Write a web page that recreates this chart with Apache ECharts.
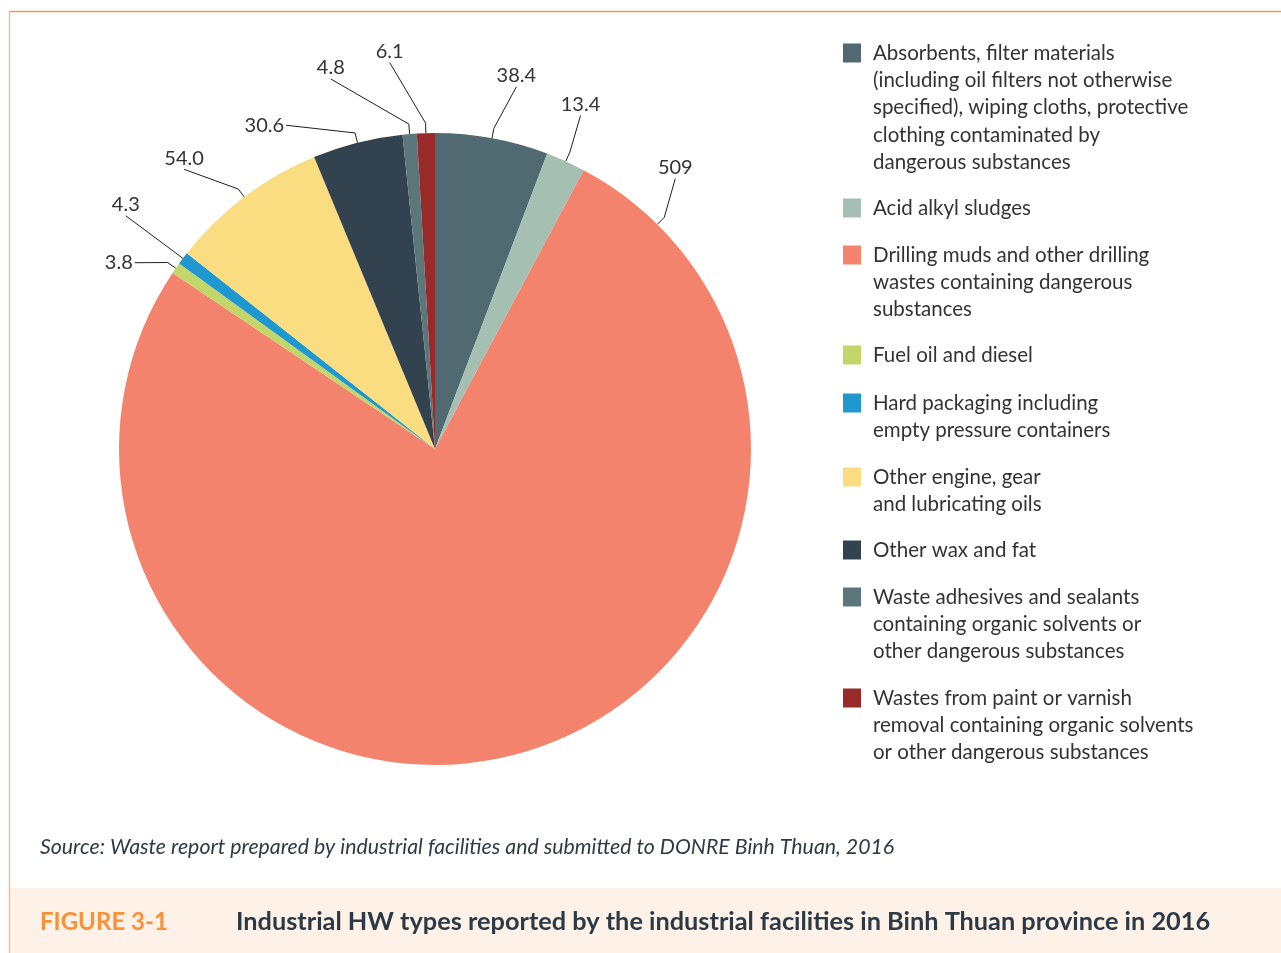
<!DOCTYPE html>
<html>
<head>
<meta charset="utf-8">
<script src="https://cdn.jsdelivr.net/npm/echarts@6/dist/echarts.min.js"></script>
<style>
  html, body { margin: 0; padding: 0; background: #ffffff; }
  #chart { width: 1281px; height: 953px; }
</style>
</head>
<body>
<div id="chart"></div>
<script>
// Hazardous waste types (tonnes) reported in 2016
const categories = [
  'Absorbents, filter materials\n(including oil filters not otherwise\nspecified), wiping cloths, protective\nclothing contaminated by\ndangerous substances',
  'Acid alkyl sludges',
  'Drilling muds and other drilling\nwastes containing dangerous\nsubstances',
  'Fuel oil and diesel',
  'Hard packaging including\nempty pressure containers',
  'Other engine, gear\nand lubricating oils',
  'Other wax and fat',
  'Waste adhesives and sealants\ncontaining organic solvents or\nother dangerous substances',
  'Wastes from paint or varnish\nremoval containing organic solvents\nor other dangerous substances'
];
const values = [38.4, 13.4, 509, 3.8, 4.3, 54.0, 30.6, 4.8, 6.1];

const sourceText = 'Source: Waste report prepared by industrial facilities and submitted to DONRE Binh Thuan, 2016';
const figureNo = 'FIGURE 3-1';
const figureTitle = 'Industrial HW types reported by the industrial facilities in Binh Thuan province in 2016';

// ---- styling / layout ----
const colors = ['#516a72', '#a6bfb3', '#f3836c', '#c2d669', '#1f98d0', '#fadd80', '#33424f', '#5c777c', '#982b2a'];
const FONT = 'Lato, "Open Sans", sans-serif';
const PIE_CX = 435, PIE_CY = 449, PIE_R = 316;

// label placement around the pie: polar angle (deg, clockwise from 12 o'clock) and distance from centre
const labelAngle = [12.3, 22.9, 40.5, 300.5, 308.3, 319.2, 332.2, 344.7, 353.5];
const labelDist  = [382, 374, 370, 367, 394, 384, 366, 395, 400];
// where the leader line leaves the slice edge (null = slice mid-angle)
const guideAngle = [null, null, 44.7, null, null, null, null, null, null];

// legend: vertical centre of the first text line of each entry
const legendLineCenter = [53, 208, 255, 355, 403, 477, 550, 597, 698];
const LEGEND_LH = 27.3;

const total = values.reduce((a, b) => a + b, 0);
const midAngles = [];
(function () {
  let acc = 0;
  values.forEach(v => { midAngles.push((acc + v / 2) / total * 360); acc += v; });
})();

function polar(angleDeg, dist) {
  const a = angleDeg * Math.PI / 180;
  return [PIE_CX + dist * Math.sin(a), PIE_CY - dist * Math.cos(a)];
}

function fmtValue(v) {
  return v >= 100 ? String(Math.round(v)) : v.toFixed(1);
}

// The legend centres its text block on the swatch; leading blank lines push
// the swatch up so it sits beside the first line of a wrapped entry.
const legends = categories.map((name, i) => {
  const n = name.split('\n').length;
  return {
    data: [name],
    orient: 'vertical',
    left: 843,
    top: legendLineCenter[i] - (2 * n - 1) * LEGEND_LH / 2,
    padding: 0,
    itemWidth: 18,
    itemHeight: 19,
    itemGap: 0,
    icon: 'rect',
    selectedMode: false,
    formatter: nm => '\n'.repeat(n - 1) + nm,
    textStyle: {
      fontFamily: FONT,
      fontWeight: 400,
      fontSize: 20.5,
      color: '#333333',
      lineHeight: LEGEND_LH,
      padding: [0, 0, 0, 7]
    }
  };
});

const chart = echarts.init(document.getElementById('chart'), null, { renderer: 'canvas' });

chart.setOption({
  animation: false,
  backgroundColor: '#ffffff',
  legend: legends,
  series: [{
    type: 'pie',
    center: [PIE_CX, PIE_CY],
    radius: [0, PIE_R],
    startAngle: 90,
    clockwise: true,
    avoidLabelOverlap: false,
    emphasis: { disabled: true },
    data: categories.map((name, i) => ({
      name: name,
      value: values[i],
      itemStyle: { color: colors[i] }
    })),
    label: {
      show: true,
      position: 'outside',
      formatter: p => fmtValue(p.value),
      fontFamily: FONT,
      fontWeight: 400,
      fontSize: 20,
      lineHeight: 20,
      color: '#333333'
    },
    labelLine: {
      show: true,
      length: 10,
      length2: 10,
      smooth: false,
      lineStyle: { color: '#1e1e1e', width: 1 }
    },
    labelLayout: function (params) {
      const i = params.dataIndex;
      const ang = guideAngle[i] == null ? midAngles[i] : guideAngle[i];
      const p0 = polar(ang, PIE_R);
      const p1 = polar(ang, PIE_R + 10);
      const [lx, ly] = polar(labelAngle[i], labelDist[i]);
      const w2 = params.labelRect.width / 2;
      const h2 = 10;
      const dx = p1[0] - lx, dy = p1[1] - ly;
      let p2;
      if (Math.abs(dy) / h2 >= Math.abs(dx) / w2) {
        p2 = [lx, ly + Math.sign(dy) * (h2 + 1)];
      } else {
        p2 = [lx + Math.sign(dx) * (w2 + 2), ly];
      }
      return {
        x: lx,
        y: ly,
        align: 'center',
        verticalAlign: 'middle',
        labelLinePoints: [p0, p1, p2]
      };
    }
  }],
  graphic: [
    // frame lines
    { type: 'line', silent: true, shape: { x1: 9, y1: 11.5, x2: 1281, y2: 11.5 }, style: { stroke: '#ee9a5c', lineWidth: 1.5 } },
    { type: 'line', silent: true, shape: { x1: 9.5, y1: 11, x2: 9.5, y2: 953 }, style: { stroke: '#f7bd92', lineWidth: 1.5 } },
    // caption band
    { type: 'rect', silent: true, z: -1, shape: { x: 10.5, y: 888, width: 1271, height: 65 }, style: { fill: '#fdf1e8' } },
    { type: 'text', silent: true, x: 40, y: 847,
      style: { text: sourceText, font: 'italic 400 21.3px ' + FONT, fill: '#2f3a44', verticalAlign: 'middle' } },
    { type: 'text', silent: true, x: 40, y: 922,
      style: { text: figureNo, font: 'bold 24px ' + FONT, fill: '#f7923a', verticalAlign: 'middle' } },
    { type: 'text', silent: true, x: 236, y: 922,
      style: { text: figureTitle, font: 'bold 25.3px ' + FONT, fill: '#2c3a45', verticalAlign: 'middle' } }
  ]
});
</script>
</body>
</html>
